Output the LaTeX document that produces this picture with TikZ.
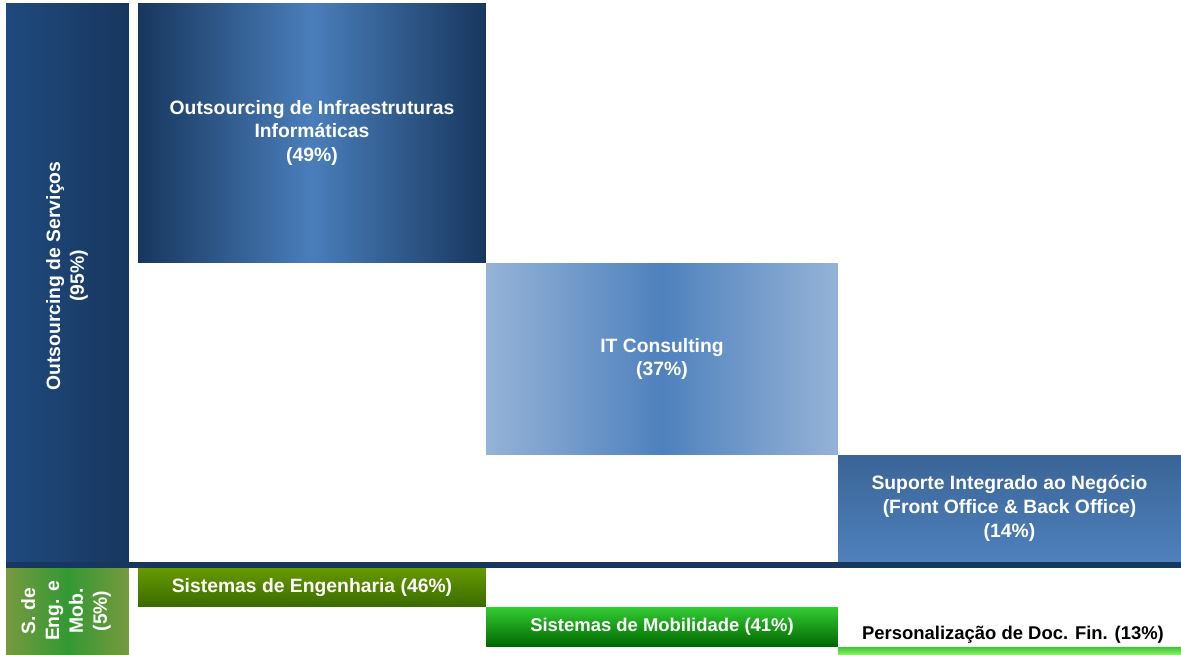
\documentclass[tikz,border=0pt]{standalone}
\usepackage{fontspec}
\setmainfont{Liberation Sans}
\usetikzlibrary{positioning}
\definecolor{navy}{HTML}{17375E}
\definecolor{navymid}{HTML}{1F4A7E}
\definecolor{steel}{HTML}{4A7EBB}
\definecolor{skyblue}{HTML}{95B3D7}
\definecolor{midblue}{HTML}{4F81BD}
\definecolor{supblue}{HTML}{3A6496}
\definecolor{olive}{HTML}{77993F}
\definecolor{leaf}{HTML}{339933}
\tikzstyle{block}=[inner sep=0pt,outer sep=0pt,align=center,text=white,font=\bfseries\fontsize{11}{13.6}\selectfont]
\tikzstyle{vlabel}=[rotate=90,align=center,text=white,font=\bfseries\fontsize{11}{13.6}\selectfont]

\begin{document}
\begin{tikzpicture}[x=0.02cm,y=-0.02cm]
\useasboundingbox (0,0) rectangle (1181,655);
% service outsourcing (95%)
\node[block,left color=navymid,right color=navy,minimum width=2.46cm,minimum height=11.18cm] (SvcBar) at (67.5,282.5) {};
\node[vlabel] (SvcText) at (67,276) {Outsourcing de Serviços\\(95\%)};
\node[block,left color=navy,right color=navy,middle color=steel,minimum width=6.96cm,minimum height=5.2cm] (Infra) at (312,133) {Outsourcing de Infraestruturas\\Informáticas\\(49\%)};
\node[block,left color=skyblue,right color=skyblue,middle color=midblue,minimum width=7.04cm,minimum height=3.84cm] (ITC) at (662,359) {IT Consulting\\(37\%)};
\node[block,top color=supblue,bottom color=midblue,minimum width=6.86cm,minimum height=2.14cm] (SIN) at (1009.5,508.5) {Suporte Integrado ao Negócio\\(Front Office \& Back Office)\\(14\%)};
\fill[navy] (6,562) rectangle (1181,568);
% engineering and mobility (5%)
\node[block,left color=olive,right color=olive,middle color=leaf,minimum width=2.46cm,minimum height=1.74cm] (EngBar) at (67.5,611.5) {};
\node[vlabel] (EngText) at (66,611) {S. de\\Eng. e\\Mob.\\(5\%)};
\node[block,top color={rgb,255:red,102;green,153;blue,0},bottom color={rgb,255:red,58;green,107;blue,0},minimum width=6.96cm,minimum height=0.78cm] (Eng) at (312,587.5) {Sistemas de Engenharia (46\%)};
\node[block,top color={rgb,255:red,51;green,204;blue,51},bottom color={rgb,255:red,0;green,102;blue,0},minimum width=7.04cm,minimum height=0.8cm,font=\bfseries\fontsize{10.5}{13}\selectfont] (Mob) at (662,627) {Sistemas de Mobilidade (41\%)};
\node[block,top color={rgb,255:red,60;green,200;blue,50},bottom color={rgb,255:red,150;green,235;blue,120},minimum width=6.86cm,minimum height=0.16cm] (Pers) at (1009.5,651) {};
\node[block,text=black,font=\bfseries\fontsize{10.5}{13}\selectfont] (PersText) at (1013,635) {Personalização de Doc. Fin. (13\%)};
\end{tikzpicture}
\end{document}
